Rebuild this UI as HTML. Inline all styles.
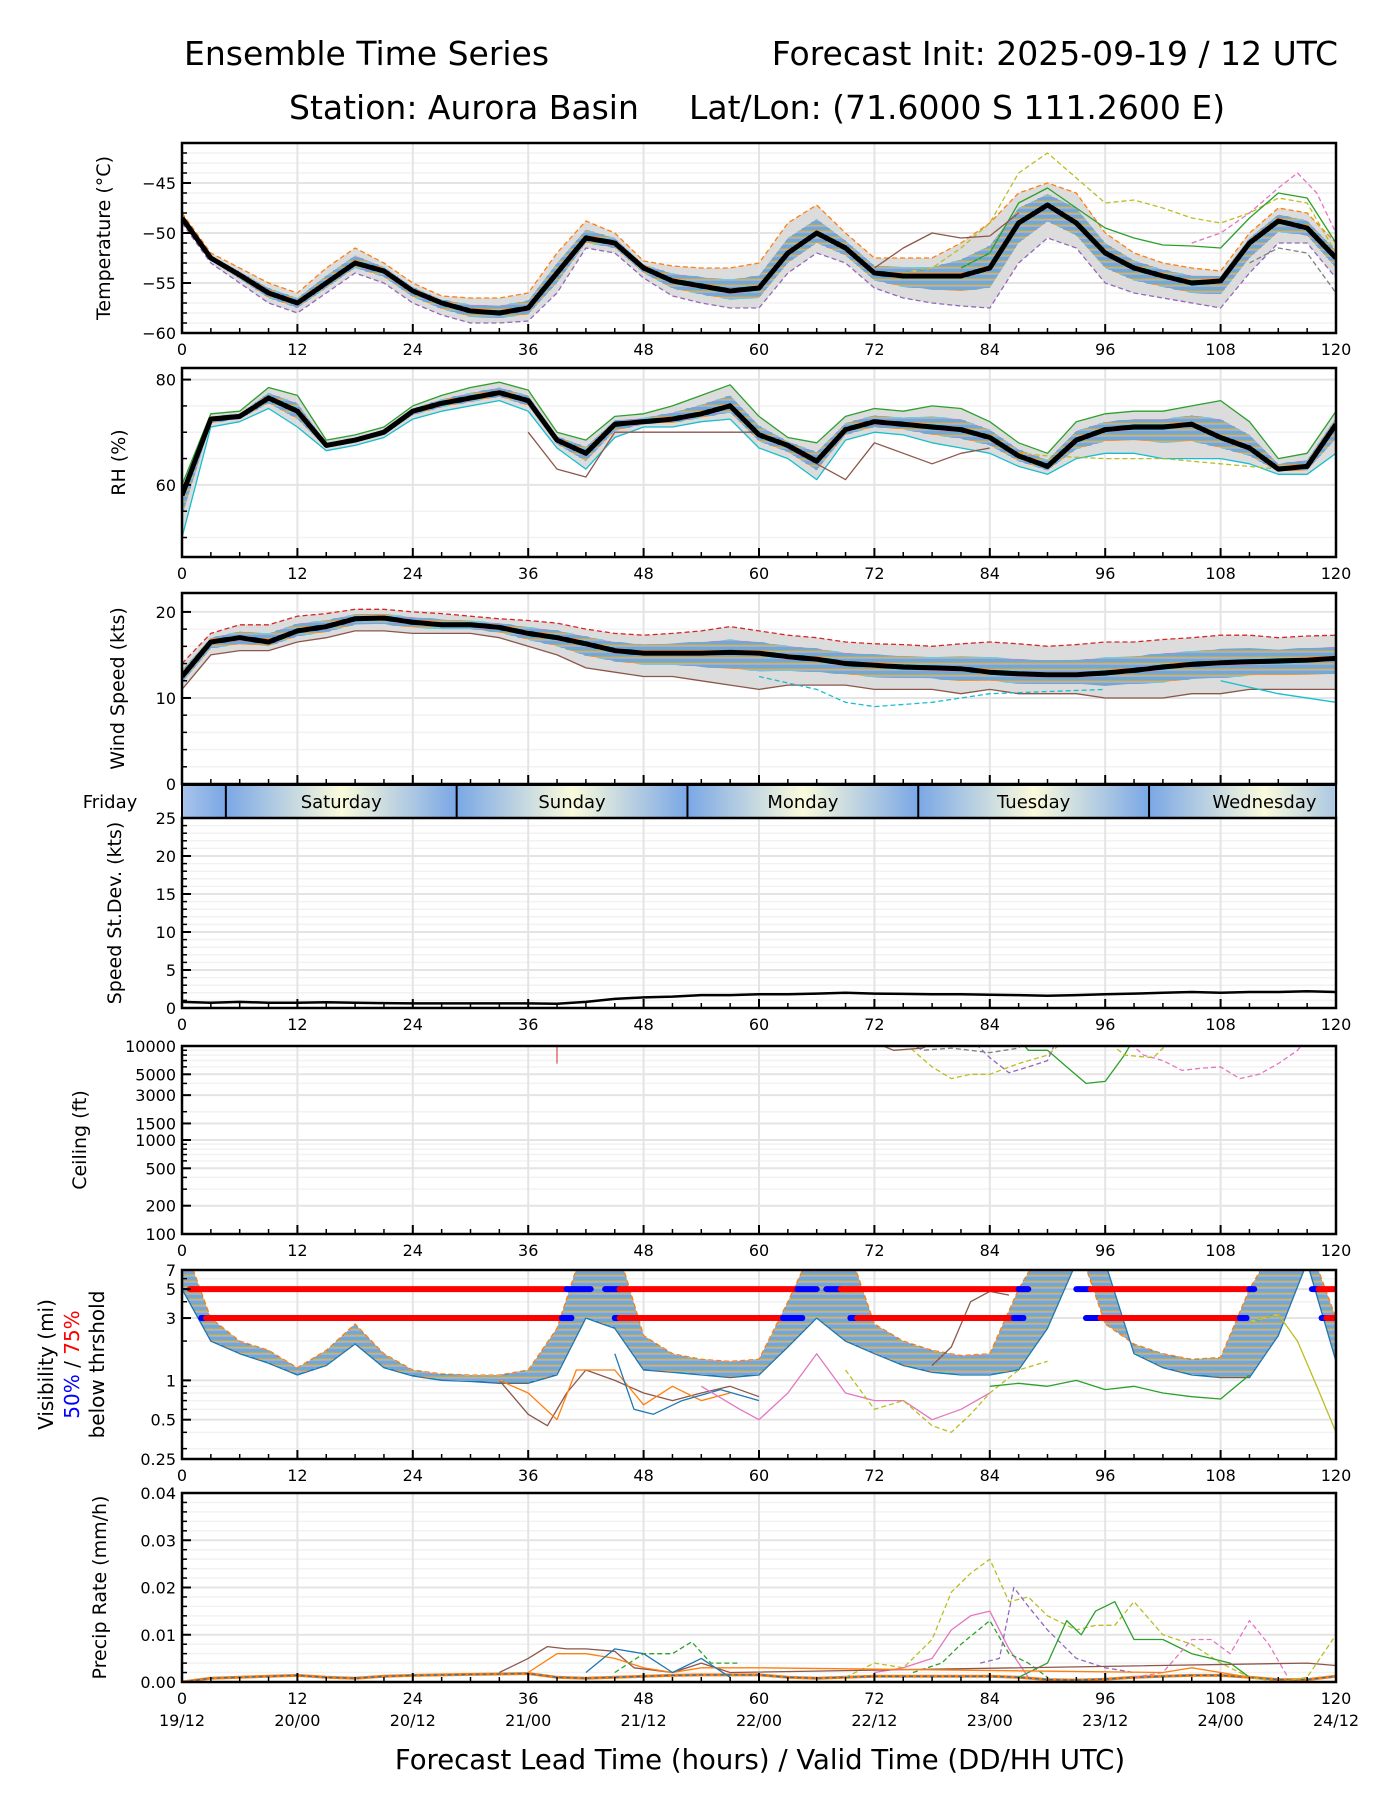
<!DOCTYPE html>
<html><head><meta charset="utf-8"><title>Ensemble Time Series</title>
<style>
html,body{margin:0;padding:0;background:#fff;}
svg{display:block;font-family:"DejaVu Sans","Liberation Sans",sans-serif;}
</style></head>
<body>
<svg id="fig" width="1400" height="1800" viewBox="0 0 1400 1800" xmlns="http://www.w3.org/2000/svg">
<defs>
<pattern id="spag" width="6" height="6" patternUnits="userSpaceOnUse">
<rect width="6" height="6" fill="#c9d9e6"/>
<line x1="0" y1="1" x2="6" y2="1" stroke="#1f77b4" stroke-width="1"/>
<line x1="0" y1="2.5" x2="6" y2="2.5" stroke="#ff7f0e" stroke-width="0.8"/>
<line x1="0" y1="4" x2="6" y2="4" stroke="#17becf" stroke-width="1"/>
<line x1="0" y1="5.3" x2="6" y2="5.3" stroke="#9467bd" stroke-width="0.7"/>
</pattern>
<linearGradient id="dayGrad" x1="0" x2="1" y1="0" y2="0">
<stop offset="0" stop-color="#7aa7e6"/><stop offset="0.5" stop-color="#fbfbdc"/><stop offset="1" stop-color="#7aa7e6"/>
</linearGradient>
<linearGradient id="dayGradStart" x1="0" x2="1" y1="0" y2="0">
<stop offset="0" stop-color="#a9c4ea"/><stop offset="1" stop-color="#7aa7e6"/>
</linearGradient>
</defs>
<text x="184" y="65" font-size="33">Ensemble Time Series</text>
<text x="1338" y="65" font-size="33" text-anchor="end">Forecast Init: 2025-09-19 / 12 UTC</text>
<text x="289" y="119" font-size="33">Station: Aurora Basin</text>
<text x="689" y="119" font-size="33">Lat/Lon: (71.6000 S 111.2600 E)</text>
<text x="760" y="1769" font-size="27.5" text-anchor="middle">Forecast Lead Time (hours) / Valid Time (DD/HH UTC)</text>
</svg>
<script>
const HOURS=[0,3,6,9,12,15,18,21,24,27,30,33,36,39,42,45,48,51,54,57,60,63,66,69,72,75,78,81,84,87,90,93,96,99,102,105,108,111,114,117,120];
// Temperature
const tempMean=[-48.5,-52.5,-54.2,-56,-57,-55,-53,-53.8,-55.8,-57,-57.8,-58,-57.5,-54,-50.5,-51,-53.5,-54.8,-55.3,-55.8,-55.5,-52,-50,-51.5,-54,-54.3,-54.3,-54.3,-53.5,-49,-47.2,-49,-52,-53.5,-54.3,-55,-54.8,-51,-48.8,-49.5,-52.5];
const tempHi=[-48,-52,-53.5,-55,-56,-53.5,-51.5,-53,-55,-56.3,-56.5,-56.5,-56,-52,-48.8,-50,-52.8,-53.3,-53.5,-53.5,-53,-49,-47.2,-50,-52.5,-52.5,-52.5,-51,-49,-46,-45,-46,-50,-52,-53,-53.5,-53.8,-50,-47.5,-48,-51];
const tempLo=[-49,-53,-55,-57,-58,-56,-54,-55,-57,-58.2,-59,-59,-58.8,-56,-51.5,-52,-54.5,-56.3,-57,-57.5,-57.5,-54,-52,-53,-55.5,-56.5,-57,-57.3,-57.5,-53,-50.5,-51.5,-55,-56,-56.5,-57,-57.5,-54,-51,-51,-54.5];
const tempOliveDash=[[75,-54],[78,-53.5],[81,-51.5],[84,-49],[87,-44],[90,-42],[93,-44.5],[96,-47],[99,-46.7],[102,-47.5],[105,-48.5],[108,-49],[111,-48],[114,-46.5],[117,-47],[120,-52]];
const tempGreen=[[81,-53.5],[84,-52],[87,-47],[90,-45.5],[93,-47.5],[96,-49.5],[99,-50.5],[102,-51.2],[105,-51.3],[108,-51.5],[111,-48.5],[114,-46],[117,-46.5],[120,-51]];
const tempPinkDash=[[105,-51],[108,-50],[111,-48],[114,-45.5],[116,-44],[118,-46],[120,-50]];
const tempBrown=[[72,-53.5],[75,-51.5],[78,-50],[81,-50.5],[84,-50.3],[87,-48]];
const tempGrayDash=[[111,-53],[114,-51.5],[117,-52],[120,-56]];
// RH
const rhMean=[58,72.5,73,76.5,74,67.5,68.5,70,74,75.5,76.5,77.5,76,68.5,66,71.5,72,72.5,73.5,75,69.5,67.5,64.5,70.5,72,71.5,71,70.5,69,65.5,63.5,68.5,70.5,71,71,71.5,69,67,63,63.5,71.5];
const rhHi=[60,73.5,74,78.5,77,68.5,69.5,71,75,77,78.5,79.5,78,70,68.5,73,73.5,75,77,79,73,69,68,73,74.5,74,75,74.5,72,68,66,72,73.5,74,74,75,76,72,65,66,74];
const rhLo=[50,71,72,74.5,71,66.5,67.5,69,72.5,74,75,76,74,67,63,69,71,71,72,72.5,67,65,61,68.5,70,69.5,68,67,66,63.5,62,65,66,66,65,65,65,64,62,62,66];
const rhBrown=[[36,70],[39,63],[42,61.5],[45,70],[60,70],[66,64],[69,61],[72,68],[75,66],[78,64],[81,66],[84,67]];
const rhOliveDash=[[87,66],[90,65.5],[96,65],[102,65],[108,64],[114,63]];
// Wind
const windMean=[12.5,16.5,17,16.5,17.8,18.3,19.2,19.3,18.8,18.5,18.5,18.2,17.5,17,16.3,15.5,15.2,15.2,15.2,15.3,15.2,14.8,14.5,14,13.8,13.6,13.5,13.4,13,12.8,12.7,12.7,12.9,13.2,13.6,13.9,14.1,14.2,14.3,14.4,14.6];
const windHi=[14,17.5,18.5,18.5,19.5,19.8,20.3,20.3,20,19.8,19.5,19.2,19,18.7,18,17.5,17.3,17.5,17.8,18.3,17.8,17.3,17,16.5,16.3,16.2,16,16.3,16.5,16.3,16,16.2,16.5,16.5,16.8,17,17.3,17.3,17,17.2,17.3];
const windLo=[11,15,15.5,15.5,16.5,17,17.8,17.8,17.5,17.5,17.5,17,16,15,13.5,13,12.5,12.5,12,11.5,11,11.5,11.5,11.5,11,11,11,10.5,11,10.5,10.5,10.5,10,10,10,10.5,10.5,11,11,11,11];
const windCyanDash=[[60,12.5],[66,11],[69,9.5],[72,9],[78,9.5],[84,10.5],[96,11]];
const windCyan=[[108,12],[114,10.5],[120,9.5]];
// Speed st.dev.
const sdVals=[0.8,0.7,0.8,0.7,0.7,0.75,0.7,0.65,0.6,0.6,0.6,0.6,0.6,0.55,0.8,1.2,1.4,1.5,1.7,1.7,1.8,1.8,1.9,2.0,1.9,1.85,1.8,1.8,1.75,1.7,1.6,1.7,1.8,1.9,2.0,2.1,2.0,2.1,2.1,2.2,2.1];
// Ceiling members
const ceilOlive=[[74,14000],[76,9000],[78,6000],[80,4500],[82,5000],[84,5000],[87,6500],[90,8000],[92,12000]];
const ceilGreen=[[87,12000],[88,9000],[90,9000],[92,6000],[94,4000],[96,4200],[98,8000],[99,12000]];
const ceilPink=[[98,12000],[100,8000],[102,7000],[104,5500],[106,5800],[108,6000],[110,4500],[112,5000],[114,6500],[116,9000],[117,12000]];
const ceilPurple=[[82,12000],[84,7500],[86,5200],[88,6000],[90,7000],[91,12000]];
const ceilGray=[[75,12000],[77,9000],[80,9500],[84,8500],[87,9500],[88,12000]];
const ceilBrown=[[71,12000],[74,9000],[77,9500],[79,12000]];
const ceilOliveLate=[[96,12000],[98,8000],[101,7500],[103,12000]];
// Visibility
const visHi=[12,3,2,1.7,1.25,1.7,2.7,1.6,1.2,1.12,1.1,1.1,1.2,2.5,12,12,2.2,1.6,1.45,1.4,1.45,4,12,12,2.7,2,1.7,1.55,1.6,5,12,12,2.7,1.9,1.6,1.45,1.5,5,12,12,3];
const visLo=[5,2,1.6,1.35,1.1,1.3,1.9,1.25,1.08,1.0,0.98,0.95,0.95,1.1,3,2.5,1.2,1.15,1.1,1.05,1.1,1.8,3,2,1.6,1.3,1.15,1.1,1.1,1.2,2.5,8,8,1.6,1.25,1.1,1.05,1.05,2.2,8,1.4];
const visBrown=[[33,1.0],[36,0.55],[38,0.45],[40,0.8],[42,1.2],[45,1.0],[48,0.8],[51,0.7],[54,0.8],[57,0.9],[60,0.75]];
const visOrange=[[33,1.0],[36,0.8],[39,0.5],[41,1.2],[45,1.2],[48,0.65],[51,0.9],[54,0.7],[57,0.8]];
const visBlue=[[45,1.6],[47,0.6],[49,0.55],[52,0.7],[56,0.85],[60,0.7]];
const visPink=[[54,0.9],[58,0.6],[60,0.5],[63,0.8],[66,1.6],[69,0.8],[72,0.7],[75,0.7],[78,0.5],[81,0.6],[84,0.8]];
const visOliveDash=[[69,1.2],[72,0.6],[75,0.7],[78,0.45],[80,0.4],[82,0.55],[84,0.8],[87,1.2],[90,1.4]];
const visGreen=[[84,0.9],[87,0.95],[90,0.9],[93,1.0],[96,0.85],[99,0.9],[102,0.8],[105,0.75],[108,0.72],[111,1.1]];
const visBrownRise=[[78,1.3],[80,1.8],[82,4],[84,4.8],[86,4.5]];
const visOliveEnd=[[111,2.8],[114,3.2],[116,2],[118,0.9],[120,0.4]];
const thr5Segs=[[0.8,40,'r'],[40,42.5,'b'],[44,45.5,'b'],[45.5,64,'r'],[64,66,'b'],[67,68.5,'b'],[68.5,87,'r'],[87,88,'b'],[93,94.5,'b'],[94.5,111,'r'],[111,111.5,'b'],[117.5,118.2,'b'],[118.2,120,'r']];
const thr3Segs=[[2,2.5,'b'],[2.5,39.5,'r'],[39.5,40.5,'b'],[45,45.5,'b'],[45.5,62.5,'r'],[62.5,64.5,'b'],[69.5,70.2,'b'],[70.2,86.5,'r'],[86.5,87.5,'b'],[94,95.5,'b'],[95.5,110,'r'],[110,110.7,'b'],[118.5,119,'b'],[119,120,'r']];
// Precip
const prBase=[0,0.0008,0.001,0.0012,0.0014,0.001,0.0008,0.0012,0.0014,0.0015,0.0016,0.0017,0.0018,0.001,0.0008,0.001,0.0012,0.0014,0.0015,0.0015,0.0015,0.001,0.0008,0.001,0.0012,0.0012,0.0012,0.0012,0.0012,0.001,0.0005,0.0004,0.0006,0.001,0.0012,0.0014,0.0014,0.001,0.0005,0.0005,0.0012];
const prOliveDash=[[69,0.001],[72,0.004],[75,0.003],[78,0.009],[80,0.019],[82,0.023],[84,0.026],[86,0.017],[88,0.018],[90,0.014],[93,0.011],[95,0.012],[97,0.012],[99,0.017],[102,0.01],[105,0.008],[108,0.004],[111,0.001],[114,0],[117,0.001],[120,0.01]];
const prPink=[[72,0.002],[75,0.003],[78,0.005],[80,0.011],[82,0.014],[84,0.015],[86,0.007],[88,0.001]];
const prGreenDash=[[76,0.002],[79,0.004],[81,0.008],[84,0.013],[86,0.006],[88,0.004],[90,0.001]];
const prPurpleDash=[[83,0.004],[85,0.005],[86.5,0.02],[88,0.016],[90,0.011],[93,0.005],[96,0.003],[99,0.002]];
const prGreen=[[87,0.001],[90,0.004],[92,0.013],[93.5,0.010],[95,0.015],[97,0.017],[99,0.009],[102,0.009],[105,0.006],[107,0.005],[109,0.004],[111,0.001]];
const prPinkDash=[[99,0.001],[102,0.002],[105,0.009],[107,0.009],[109,0.006],[111,0.013],[113,0.008],[115,0.001]];
const prBrown=[[33,0.002],[36,0.005],[38,0.0075],[40,0.007],[42,0.007],[45,0.0065],[47,0.003],[51,0.002],[54,0.004],[57,0.002],[117,0.004],[120,0.0035]];
const prOrange=[[36,0.002],[39,0.006],[42,0.006],[45,0.005],[48,0.003],[51,0.002],[54,0.003],[57,0.003],[60,0.003],[102,0.002],[105,0.003],[108,0.002],[111,0.001]];
const prBlue=[[42,0.002],[45,0.007],[48,0.006],[51,0.002],[54,0.005],[57,0.001]];
const prGreen2=[[45,0.002],[48,0.006],[51,0.006],[53,0.0085],[55,0.004],[58,0.004]];
// x-axis labels
const xTicks=[0,12,24,36,48,60,72,84,96,108,120];
const dateLabels=['19/12','20/00','20/12','21/00','21/12','22/00','22/12','23/00','23/12','24/00','24/12'];
const dayNames=['Saturday','Sunday','Monday','Tuesday','Wednesday'];

const NS='http://www.w3.org/2000/svg';
const svg=document.getElementById('fig');
const X0=182,X1=1336;
function xs(h){return X0+h/120*(X1-X0);}
function mk(tag,attrs,parent){const e=document.createElementNS(NS,tag);for(const k in attrs)e.setAttribute(k,attrs[k]);(parent||svg).appendChild(e);return e;}
function linP(top,bot,mn,mx){return v=>bot-(v-mn)/(mx-mn)*(bot-top);}
function logP(top,bot,mn,mx){return v=>bot-(Math.log10(v)-Math.log10(mn))/(Math.log10(mx)-Math.log10(mn))*(bot-top);}

const P={
 temp:{top:143,bot:333,ys:linP(143,333,-60,-41)},
 rh:{top:368,bot:557,ys:linP(368,557,46.3,82.2)},
 wind:{top:593,bot:784,ys:linP(593,784,0,22.2)},
 sd:{top:818,bot:1008,ys:linP(818,1008,0,25)},
 ceil:{top:1046,bot:1234,ys:logP(1046,1234,100,10000)},
 vis:{top:1270,bot:1459,ys:logP(1270,1459,0.25,7)},
 pr:{top:1493,bot:1682,ys:linP(1493,1682,0,0.04)}
};
let clipN=0;
function setupPanel(name,p,majors,minors,labels){
 const g=mk('g',{});
 
 
 const id='clip'+(clipN++);
 const cp=mk('clipPath',{id:id},svg);
 mk('rect',{x:X0,y:p.top,width:X1-X0,height:p.bot-p.top},cp);
 minors.forEach(v=>{const y=p.ys(v);mk('line',{x1:X0,x2:X1,y1:y,y2:y,stroke:'#f2f2f2','stroke-width':1.5},g);});
 majors.forEach(v=>{const y=p.ys(v);mk('line',{x1:X0,x2:X1,y1:y,y2:y,stroke:'#e4e4e4','stroke-width':2},g);});
 xTicks.forEach(h=>{mk('line',{x1:xs(h),x2:xs(h),y1:p.top,y2:p.bot,stroke:'#e4e4e4','stroke-width':2},g);});
 p.g=mk('g',{'clip-path':'url(#'+id+')'},g);
 p.axis=g;p.majors=majors;p.minors=minors;p.labels=labels;
 return g;
}
function finishPanel(p,showX){
 const g=p.axis;
 mk('rect',{x:X0,y:p.top,width:X1-X0,height:p.bot-p.top,fill:'none',stroke:'#000','stroke-width':2.5},g);
 for(let h=0;h<=120;h+=3){const maj=h%12===0;mk('line',{x1:xs(h),x2:xs(h),y1:p.bot,y2:p.bot-(maj?9:5),stroke:'#000','stroke-width':maj?2:1.5},g);}
 p.minors.forEach(v=>{const y=p.ys(v);mk('line',{x1:X0,x2:X0+5,y1:y,y2:y,stroke:'#000','stroke-width':1.5},g);});
 p.majors.forEach((v,i)=>{const y=p.ys(v);mk('line',{x1:X0,x2:X0+9,y1:y,y2:y,stroke:'#000','stroke-width':2},g);
  const t=mk('text',{x:X0-6,y:y+6,'font-size':16,'text-anchor':'end'},g);t.textContent=p.labels[i];});
 if(showX){xTicks.forEach(h=>{const t=mk('text',{x:xs(h),y:p.bot+22,'font-size':16,'text-anchor':'middle'},g);t.textContent=String(h);});}
}
function ylabel(p,x,txt,name){const cy=(p.top+p.bot)/2;const t=mk('text',{x:x,y:cy,'font-size':19,'text-anchor':'middle',transform:'rotate(-90 '+x+' '+cy+')'});
 
 
 t.textContent=txt;return t;}
function pathArr(p,vals){return vals.map((v,i)=>(i?'L':'M')+xs(HOURS[i]).toFixed(1)+','+p.ys(v).toFixed(1)).join('');}
function pathPairs(p,pts){return pts.map((d,i)=>(i?'L':'M')+xs(d[0]).toFixed(1)+','+p.ys(d[1]).toFixed(1)).join('');}
function band(p,hi,lo,fill,name){
 const d=pathArr(p,hi)+HOURS.slice().reverse().map((h,j)=>'L'+xs(h).toFixed(1)+','+p.ys(lo[lo.length-1-j]).toFixed(1)).join('')+'Z';
 const e=mk('path',{d:d,fill:fill,stroke:'none'},p.g);
 
 
}
function line(p,d,color,w,dash,name){
 const e=mk('path',{d:d,fill:'none',stroke:color,'stroke-width':w,'stroke-linejoin':'round'},p.g);
 if(dash)e.setAttribute('stroke-dasharray',dash);
 
 
 return e;
}
function range(a,b,s){const r=[];for(let v=a;v<=b+1e-9;v+=s)r.push(+v.toFixed(4));return r;}

// ---- Temperature
setupPanel('temperature',P.temp,[-45,-50,-55,-60],range(-59,-42,1),['−45','−50','−55','−60']);
band(P.temp,tempHi,tempLo,'#dcdcdc','temp-spread');
band(P.temp,tempHi.map((v,i)=>(v+tempMean[i])/2),tempLo.map((v,i)=>(v+tempMean[i])/2),'url(#spag)','temp-members');
line(P.temp,pathArr(P.temp,tempHi),'#ff7f0e',1.3,'5,3','temp-member-high');
line(P.temp,pathArr(P.temp,tempLo),'#9467bd',1.3,'5,3','temp-member-low');
line(P.temp,pathPairs(P.temp,tempOliveDash),'#bcbd22',1.3,'5,3','temp-member-olive');
line(P.temp,pathPairs(P.temp,tempGreen),'#2ca02c',1.3,null,'temp-member-green');
line(P.temp,pathPairs(P.temp,tempPinkDash),'#e377c2',1.3,'5,3','temp-member-pink');
line(P.temp,pathPairs(P.temp,tempBrown),'#8c564b',1.3,null,'temp-member-brown');
line(P.temp,pathPairs(P.temp,tempGrayDash),'#7f7f7f',1.3,'5,3','temp-member-gray');
line(P.temp,pathArr(P.temp,tempMean),'#000',5,null,'temp-ensemble-mean');
finishPanel(P.temp,true);
ylabel(P.temp,110,'Temperature (°C)','temp-y-axis-title');

// ---- RH
setupPanel('rh',P.rh,[60,80],[50,55,65,70,75],['60','80']);
band(P.rh,rhHi,rhLo,'#dcdcdc','rh-spread');
band(P.rh,rhHi.map((v,i)=>(v+rhMean[i])/2),rhLo.map((v,i)=>(v+rhMean[i])/2),'url(#spag)','rh-members');
line(P.rh,pathArr(P.rh,rhHi),'#2ca02c',1.3,null,'rh-member-high');
line(P.rh,pathArr(P.rh,rhLo),'#17becf',1.3,null,'rh-member-low');
line(P.rh,pathPairs(P.rh,rhBrown),'#8c564b',1.3,null,'rh-member-brown');
line(P.rh,pathPairs(P.rh,rhOliveDash),'#bcbd22',1.3,'5,3','rh-member-olive');
line(P.rh,pathArr(P.rh,rhMean),'#000',5,null,'rh-ensemble-mean');
finishPanel(P.rh,true);
ylabel(P.rh,125,'RH (%)','rh-y-axis-title');

// ---- Wind
setupPanel('wind',P.wind,[0,10,20],[2,4,6,8,12,14,16,18],['0','10','20']);
band(P.wind,windHi,windLo,'#dcdcdc','wind-spread');
band(P.wind,windHi.map((v,i)=>(v+windMean[i])/2),windLo.map((v,i)=>(v+windMean[i])/2),'url(#spag)','wind-members');
line(P.wind,pathArr(P.wind,windHi),'#d62728',1.3,'5,3','wind-member-high');
line(P.wind,pathArr(P.wind,windLo),'#8c564b',1.3,null,'wind-member-low');
line(P.wind,pathPairs(P.wind,windCyanDash),'#17becf',1.3,'5,3','wind-member-cyan-dash');
line(P.wind,pathPairs(P.wind,windCyan),'#17becf',1.3,null,'wind-member-cyan');
line(P.wind,pathArr(P.wind,windMean),'#000',5,null,'wind-ensemble-mean');
finishPanel(P.wind,false);
ylabel(P.wind,124,'Wind Speed (kts)','wind-y-axis-title');

// ---- Day band
(function(){
 const g=mk('g',{});
 
 
 const top=785,bot=818,mid0=4.56;
 mk('rect',{x:X0,y:top,width:xs(mid0)-X0,height:bot-top,fill:'url(#dayGradStart)'},g);
 for(let k=0;k<5;k++){
  const a=mid0+24*k;
  const w=xs(a+24)-xs(a);
  mk('rect',{x:xs(a),y:top,width:w,height:bot-top,fill:'url(#dayGrad)'},g);
  mk('line',{x1:xs(a),x2:xs(a),y1:top,y2:bot,stroke:'#000','stroke-width':2},g);
  const t=mk('text',{x:xs(a+12),y:top+23,'font-size':18,'text-anchor':'middle'},g);
  
  
  t.textContent=dayNames[k];
 }
 mk('rect',{x:X1+1.5,y:top-2,width:64,height:bot-top+4,fill:'#fff'},g);
 mk('rect',{x:X0,y:top,width:X1-X0,height:bot-top,fill:'none',stroke:'#000','stroke-width':2},g);
 const f=mk('text',{x:110,y:top+23,'font-size':18,'text-anchor':'middle'},g);
 f.textContent='Friday';
})();

// ---- SD
setupPanel('speed-stdev',P.sd,[0,5,10,15,20,25],range(1,24,1),['0','5','10','15','20','25']);
line(P.sd,pathArr(P.sd,sdVals),'#000',2.5,null,'speed-stdev-line');
finishPanel(P.sd,true);
ylabel(P.sd,121,'Speed St.Dev. (kts)','stdev-y-axis-title');

// ---- Ceiling
setupPanel('ceiling',P.ceil,[10000,5000,3000,1500,1000,500,200,100],[300,400,600,700,800,900,2000,4000,6000,7000,8000,9000],['10000','5000','3000','1500','1000','500','200','100']);
line(P.ceil,pathPairs(P.ceil,ceilOlive),'#bcbd22',1.3,'5,3','ceil-member-olive');
line(P.ceil,pathPairs(P.ceil,ceilGreen),'#2ca02c',1.3,null,'ceil-member-green');
line(P.ceil,pathPairs(P.ceil,ceilPink),'#e377c2',1.3,'5,3','ceil-member-pink');
line(P.ceil,pathPairs(P.ceil,ceilPurple),'#9467bd',1.3,'5,3','ceil-member-purple');
line(P.ceil,pathPairs(P.ceil,ceilGray),'#7f7f7f',1.3,'5,3','ceil-member-gray');
line(P.ceil,pathPairs(P.ceil,ceilBrown),'#8c564b',1.3,null,'ceil-member-brown');
line(P.ceil,pathPairs(P.ceil,ceilOliveLate),'#bcbd22',1.3,'5,3','ceil-member-olive-late');
line(P.ceil,pathPairs(P.ceil,[[39,10000],[39,6500]]),'#d62728',1,null,'ceil-member-red');
finishPanel(P.ceil,true);
ylabel(P.ceil,86,'Ceiling (ft)','ceiling-y-axis-title');

// ---- Visibility
setupPanel('visibility',P.vis,[7,5,3,1,0.5,0.25],[0.3,0.4,0.6,0.7,0.8,0.9,2,4,6],['7','5','3','1','0.5','0.25']);
band(P.vis,visHi,visLo,'url(#spag)','vis-members');
line(P.vis,pathArr(P.vis,visHi),'#ff7f0e',1.3,'5,3','vis-member-high');
line(P.vis,pathArr(P.vis,visLo),'#1f77b4',1.3,null,'vis-member-low');
line(P.vis,pathPairs(P.vis,visBrown),'#8c564b',1.3,null,'vis-member-brown');
line(P.vis,pathPairs(P.vis,visOrange),'#ff7f0e',1.3,null,'vis-member-orange');
line(P.vis,pathPairs(P.vis,visBlue),'#1f77b4',1.3,null,'vis-member-blue');
line(P.vis,pathPairs(P.vis,visPink),'#e377c2',1.3,null,'vis-member-pink');
line(P.vis,pathPairs(P.vis,visOliveDash),'#bcbd22',1.3,'5,3','vis-member-olive');
line(P.vis,pathPairs(P.vis,visGreen),'#2ca02c',1.3,null,'vis-member-green');
line(P.vis,pathPairs(P.vis,visBrownRise),'#8c564b',1.3,null,'vis-member-brown-rise');
line(P.vis,pathPairs(P.vis,visOliveEnd),'#bcbd22',1.3,null,'vis-member-olive-end');
[[5,thr5Segs],[3,thr3Segs]].forEach(([lvl,segs])=>{
 segs.forEach(s=>{const y=P.vis.ys(lvl);
  const e=mk('line',{x1:xs(s[0]),x2:xs(s[1]),y1:y,y2:y,stroke:s[2]==='r'?'#ff0000':'#0000ff','stroke-width':6,'stroke-linecap':'round'},P.vis.g);
  
  
 });
});
finishPanel(P.vis,true);
(function(){const cy=(P.vis.top+P.vis.bot)/2;
 const t1=mk('text',{x:53,y:cy,'font-size':20,'text-anchor':'middle',transform:'rotate(-90 53 '+cy+')'});
 
 
 t1.textContent='Visibility (mi)';
 const t2=mk('text',{x:79,y:cy,'font-size':20,'text-anchor':'middle',transform:'rotate(-90 79 '+cy+')'});
 
 
 t2.innerHTML='<tspan fill="#0000ff">50%</tspan> / <tspan fill="#ff0000">75%</tspan>';
 const t3=mk('text',{x:104,y:cy,'font-size':20,'text-anchor':'middle',transform:'rotate(-90 104 '+cy+')'});
 t3.textContent='below thrshold';
})();

// ---- Precip
setupPanel('precip',P.pr,[0,0.01,0.02,0.03,0.04],range(0.002,0.038,0.002),['0.00','0.01','0.02','0.03','0.04']);
line(P.pr,pathArr(P.pr,prBase),'#ff7f0e',3,null,'precip-members-base');
line(P.pr,pathArr(P.pr,prBase),'#1f77b4',1.3,'4,3','precip-members-base2');
line(P.pr,pathPairs(P.pr,prOliveDash),'#bcbd22',1.3,'5,3','precip-member-olive');
line(P.pr,pathPairs(P.pr,prPink),'#e377c2',1.3,null,'precip-member-pink');
line(P.pr,pathPairs(P.pr,prGreenDash),'#2ca02c',1.3,'5,3','precip-member-green-dash');
line(P.pr,pathPairs(P.pr,prPurpleDash),'#9467bd',1.3,'5,3','precip-member-purple');
line(P.pr,pathPairs(P.pr,prGreen),'#2ca02c',1.3,null,'precip-member-green');
line(P.pr,pathPairs(P.pr,prPinkDash),'#e377c2',1.3,'5,3','precip-member-pink-dash');
line(P.pr,pathPairs(P.pr,prBrown),'#8c564b',1.3,null,'precip-member-brown');
line(P.pr,pathPairs(P.pr,prOrange),'#ff7f0e',1.3,null,'precip-member-orange');
line(P.pr,pathPairs(P.pr,prBlue),'#1f77b4',1.3,null,'precip-member-blue');
line(P.pr,pathPairs(P.pr,prGreen2),'#2ca02c',1.3,'5,3','precip-member-green2');
finishPanel(P.pr,true);
ylabel(P.pr,106,'Precip Rate (mm/h)','precip-y-axis-title');
xTicks.forEach((h,i)=>{const t=mk('text',{x:xs(h),y:1726,'font-size':16,'text-anchor':'middle'});
 
 
 t.textContent=dateLabels[i];});
</script>
</body></html>
